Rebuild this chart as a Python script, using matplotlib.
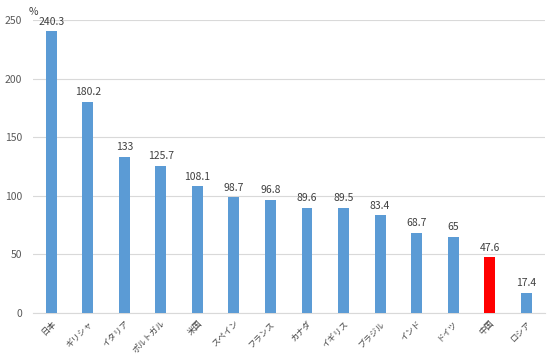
import matplotlib
matplotlib.use("Agg")
import matplotlib.pyplot as plt

countries = ["日本", "ギリシャ", "イタリア", "ポルトガル", "米国", "スペイン", "フランス",
             "カナダ", "イギリス", "ブラジル", "インド", "ドイツ", "中国", "ロシア"]
values = [240.3, 180.2, 133, 125.7, 108.1, 98.7, 96.8, 89.6, 89.5, 83.4, 68.7, 65, 47.6, 17.4]
value_labels = ["240.3", "180.2", "133", "125.7", "108.1", "98.7", "96.8", "89.6", "89.5",
                "83.4", "68.7", "65", "47.6", "17.4"]
yticks = [0, 50, 100, 150, 200, 250]

plt.rcParams['font.family'] = ['Noto Sans CJK JP', 'DejaVu Sans']

fig = plt.figure(figsize=(5.5, 3.55), dpi=100)
ax = fig.add_axes([0.06, 0.118, 0.93, 0.826])

colors = ["#5B9BD5"] * len(values)
colors[countries.index("中国")] = "#FF0000"
x = list(range(len(values)))
ax.bar(x, values, width=0.3, color=colors, zorder=3)
for xi, v, lab in zip(x, values, value_labels):
    ax.text(xi, v + 4, lab, ha="center", va="bottom", fontsize=7.5, color="#404040")

ax.set_xlim(-0.5, len(values) - 0.5)
ax.set_ylim(0, 250)
ax.set_yticks(yticks)
ax.yaxis.grid(True, color="#D9D9D9", linewidth=0.8, zorder=0)
ax.set_xticks(x)
ax.set_xticklabels(countries, rotation=45, ha="right", va="top", rotation_mode="anchor",
                   fontsize=6, color="#404040")
ax.tick_params(axis="y", labelsize=7.5, colors="#595959", length=0, pad=8)
ax.tick_params(axis="x", length=0, pad=4)
for s in ["top", "right", "left"]:
    ax.spines[s].set_visible(False)
ax.spines["bottom"].set_color("#D9D9D9")
fig.text(0.052, 0.965, "%", fontsize=7.5, color="#404040", ha="left", va="center")

fig.savefig("out.png", dpi=100)
